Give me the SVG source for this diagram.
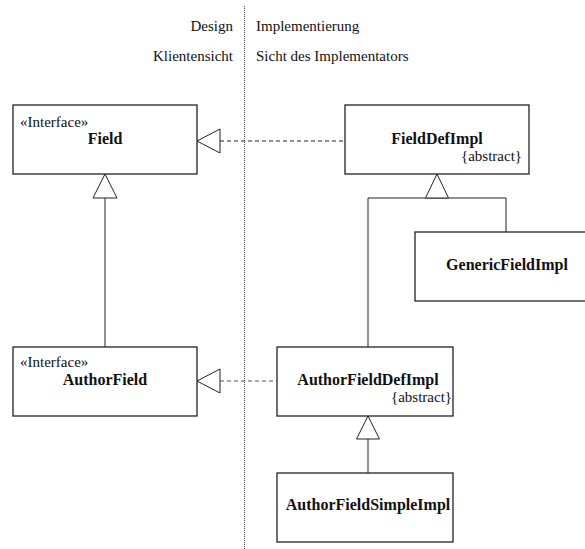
<svg xmlns="http://www.w3.org/2000/svg" width="585" height="549" viewBox="0 0 585 549">
<style>
text{font-family:"Liberation Serif","Times New Roman",Times,"Noto Serif","DejaVu Serif",serif;fill:#111}
.r{font-size:15px}
.b{font-size:16px;font-weight:bold}
.box{fill:#fff;stroke:#222;stroke-width:1.3}
.ln{fill:none;stroke:#222;stroke-width:1}
.dash{fill:none;stroke:#222;stroke-width:1;stroke-dasharray:4,3}
.tri{fill:#fff;stroke:#222;stroke-width:1}
.sep{stroke:#444;stroke-width:1;stroke-dasharray:1,1}
</style>
<line class="sep" x1="244.5" y1="6" x2="244.5" y2="549"/>
<g id="headers">
<text class="r" x="233" y="31" text-anchor="end">Design</text>
<text class="r" x="256" y="31">Implementierung</text>
<text class="r" x="233" y="61" text-anchor="end">Klientensicht</text>
<text class="r" x="256" y="61">Sicht des Implementators</text>
</g>
<g id="connectors">
<line class="dash" x1="220" y1="141" x2="345" y2="141"/>
<polygon class="tri" points="197,141 220,129 220,153"/>
<line class="ln" x1="105" y1="198" x2="105" y2="347"/>
<polygon class="tri" points="105,174 93,198 117,198"/>
<polyline class="ln" points="368,347 368,198 506,198 506,232"/>
<polygon class="tri" points="437,174 425.5,198 448.5,198"/>
<line class="dash" x1="220" y1="381" x2="277" y2="381" style="stroke:#555"/>
<polygon class="tri" points="197,381 220,369 220,393"/>
<line class="ln" x1="368" y1="439" x2="368" y2="473"/>
<polygon class="tri" points="368,416 356.5,439 379.5,439"/>
</g>
<g id="Field">
<rect class="box" x="13" y="105" width="184" height="69"/>
<text class="r" x="20" y="127">«Interface»</text>
<text class="b" x="105" y="144" text-anchor="middle">Field</text>
</g>
<g id="FieldDefImpl">
<rect class="box" x="345" y="105" width="184" height="69"/>
<text class="b" x="437" y="144" text-anchor="middle">FieldDefImpl</text>
<text class="r" x="522" y="161" text-anchor="end">{abstract}</text>
</g>
<g id="GenericFieldImpl">
<rect class="box" x="415" y="232" width="180" height="69"/>
<text class="b" x="507" y="270" text-anchor="middle">GenericFieldImpl</text>
</g>
<g id="AuthorField">
<rect class="box" x="13" y="347" width="184" height="69"/>
<text class="r" x="20" y="367">«Interface»</text>
<text class="b" x="105" y="385" text-anchor="middle">AuthorField</text>
</g>
<g id="AuthorFieldDefImpl">
<rect class="box" x="277" y="347" width="176" height="69"/>
<text class="b" x="368" y="385" text-anchor="middle">AuthorFieldDefImpl</text>
<text class="r" x="452" y="402" text-anchor="end">{abstract}</text>
</g>
<g id="AuthorFieldSimpleImpl">
<rect class="box" x="277" y="473" width="176" height="69"/>
<text class="b" x="368" y="510" text-anchor="middle">AuthorFieldSimpleImpl</text>
</g>
</svg>
